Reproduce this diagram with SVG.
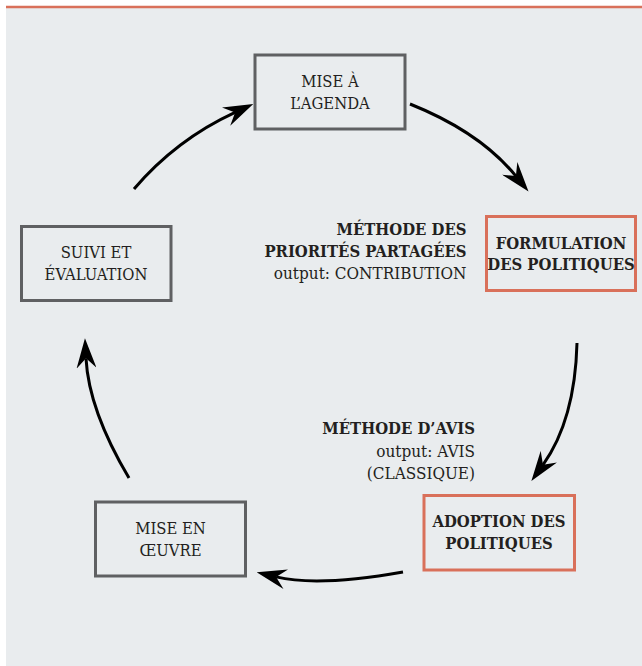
<svg xmlns="http://www.w3.org/2000/svg" width="642" height="666" viewBox="0 0 642 666">
<style>
.bg{fill:#e9ecee}
.box{fill:none;stroke:#5f6062;stroke-width:3}
.hot{fill:none;stroke:#d9705a;stroke-width:3}
text{font-family:"DejaVu Serif Condensed","DejaVu Serif","Liberation Serif",serif;font-stretch:condensed;fill:#231f20}
.t{text-anchor:middle;font-size:16.5px}
.tb{text-anchor:middle;font-size:16.5px;font-weight:bold}
.lb{text-anchor:end;font-size:16.5px;font-weight:bold}
.lr{text-anchor:end;font-size:17px}
.arr{fill:none;stroke:#000;stroke-width:3;marker-end:url(#ah)}
</style>
<defs>
<marker id="ah" viewBox="0 -10 30 20" refX="10" refY="0" markerWidth="30" markerHeight="20" markerUnits="userSpaceOnUse" orient="auto">
<path d="M0,-10 L30,0 L0,10 L10,0 Z" fill="#000"/>
</marker>
</defs>
<rect x="0" y="0" width="642" height="666" fill="#ffffff"/>
<rect class="bg" x="6" y="7" width="636" height="659"/>
<line x1="6" y1="7" x2="642" y2="7" stroke="#d9705a" stroke-width="2.5"/>
<g id="connectors">
<path class="arr" d="M134,189 Q176.3,139.5 235.1,112.4"/>
<path class="arr" d="M410,104 Q480,132 515.9,176.1"/>
<path class="arr" d="M577,343 Q575,420 543,464.8"/>
<path class="arr" d="M403,572 Q318,587 276.1,576.9"/>
<path class="arr" d="M129,478 Q88.7,410 86,358.3"/>
</g>
<g id="agenda">
<rect class="box" x="255" y="55" width="150" height="74"/>
<text class="t" x="330" y="86.5">MISE À</text>
<text class="t" x="330" y="108.5">L’AGENDA</text>
</g>
<g id="formulation">
<rect class="hot" x="486.5" y="216.5" width="149" height="74"/>
<text class="tb" x="561" y="248.5">FORMULATION</text>
<text class="tb" x="561" y="270">DES POLITIQUES</text>
</g>
<g id="suivi">
<rect class="box" x="21.5" y="226.5" width="149.5" height="74"/>
<text class="t" x="96" y="257.5">SUIVI ET</text>
<text class="t" x="96" y="280">ÉVALUATION</text>
</g>
<g id="oeuvre">
<rect class="box" x="95.5" y="502" width="150" height="74"/>
<text class="t" x="170.5" y="533.5">MISE EN</text>
<text class="t" x="170.5" y="555.5">ŒUVRE</text>
</g>
<g id="adoption">
<rect class="hot" x="424" y="495.5" width="150.5" height="74.5"/>
<text class="tb" x="499" y="527">ADOPTION DES</text>
<text class="tb" x="499" y="549">POLITIQUES</text>
</g>
<g id="label-priorites">
<text class="lb" x="466.5" y="234.5">MÉTHODE DES</text>
<text class="lb" x="466.5" y="256.5">PRIORITÉS PARTAGÉES</text>
<text class="lr" x="466.5" y="279">output: CONTRIBUTION</text>
</g>
<g id="label-avis">
<text class="lb" x="475" y="434">MÉTHODE D’AVIS</text>
<text class="lr" x="475" y="456.5">output: AVIS</text>
<text class="lr" x="475" y="478.5">(CLASSIQUE)</text>
</g>
</svg>
